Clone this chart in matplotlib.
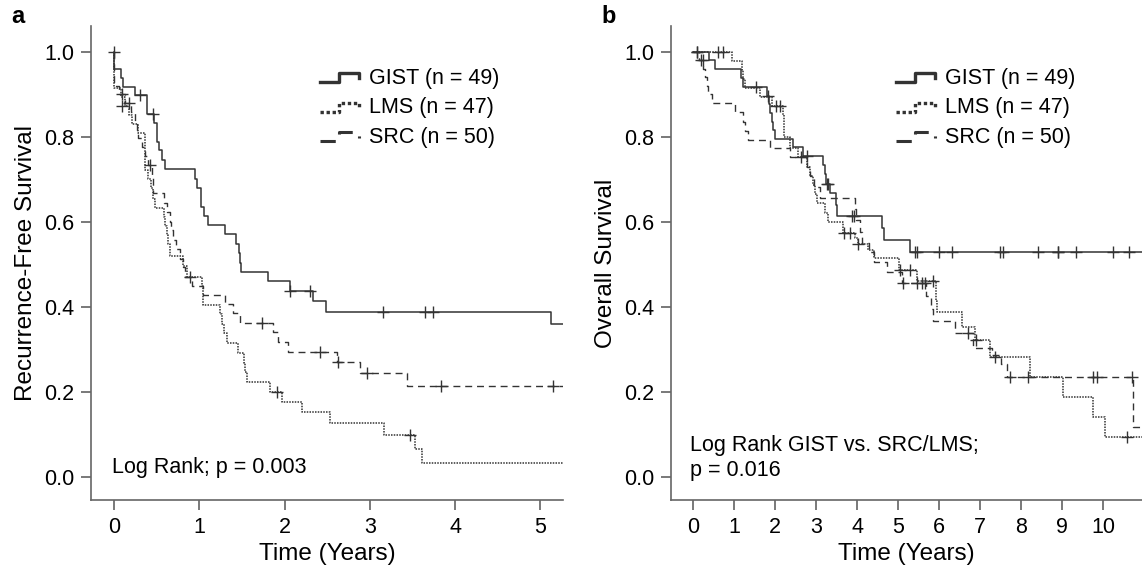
import numpy as np
import matplotlib
matplotlib.use("Agg")
import matplotlib.pyplot as plt
from matplotlib.lines import Line2D
from matplotlib.legend_handler import HandlerBase
from matplotlib.ticker import FormatStrFormatter

plt.rcParams['font.family'] = ['Liberation Sans', 'DejaVu Sans']

# -------- data --------
groups = ['GIST (n = 49)', 'LMS (n = 47)', 'SRC (n = 50)']

# panel a: recurrence-free survival (time in years, survival after each event)
rfs_gist_t = [0.0, 0.0, 0.075, 0.106, 0.243, 0.388, 0.47, 0.497, 0.525, 0.556, 0.595, 0.947, 0.967,
              1.014, 1.053, 1.104, 1.299, 1.425, 1.46, 1.475, 1.49, 1.80, 2.062, 2.336, 2.48, 5.126, 5.3]
rfs_gist_s = [1.0, 0.959, 0.938, 0.918, 0.899, 0.854, 0.832, 0.789, 0.769, 0.746, 0.724, 0.70, 0.679,
              0.636, 0.614, 0.593, 0.571, 0.548, 0.526, 0.504, 0.483, 0.46, 0.438, 0.414, 0.389, 0.359, 0.359]
rfs_gist_ct = [0.0, 0.30, 0.458, 2.065, 2.30, 3.15, 3.647, 3.737]
rfs_gist_cs = [1.0, 0.899, 0.854, 0.438, 0.438, 0.389, 0.389, 0.389]

rfs_lms_t = [0.0, 0.0, 0.075, 0.12, 0.17, 0.21, 0.28, 0.36, 0.365, 0.40, 0.43, 0.45, 0.478, 0.585,
             0.60, 0.62, 0.635, 0.654, 0.81, 0.85, 1.03, 1.04, 1.045, 1.24, 1.26, 1.29, 1.319, 1.455,
             1.52, 1.535, 1.554, 1.827, 1.964, 2.2, 2.53, 3.17, 3.53, 3.61, 5.3]
rfs_lms_s = [1.0, 0.915, 0.894, 0.872, 0.851, 0.830, 0.809, 0.745, 0.723, 0.702, 0.68, 0.655, 0.632, 0.611,
             0.590, 0.569, 0.548, 0.520, 0.497, 0.471, 0.449, 0.427, 0.405, 0.383, 0.361, 0.338, 0.315, 0.291,
             0.268, 0.246, 0.224, 0.201, 0.177, 0.152, 0.126, 0.10, 0.067, 0.033, 0.033]
rfs_lms_ct = [0.085, 1.905, 3.47]
rfs_lms_cs = [0.872, 0.201, 0.10]

rfs_src_t = [0.0, 0.0, 0.06, 0.12, 0.2, 0.24, 0.27, 0.283, 0.32, 0.36, 0.40, 0.44, 0.45, 0.458, 0.58,
             0.615, 0.654, 0.67, 0.693, 0.72, 0.771, 0.81, 0.83, 0.908, 1.045, 1.30, 1.397, 1.475, 1.866,
             1.925, 2.042, 2.61, 2.88, 3.43, 5.3]
rfs_src_s = [1.0, 0.92, 0.90, 0.88, 0.859, 0.838, 0.817, 0.797, 0.776, 0.755, 0.733, 0.711, 0.689, 0.667, 0.645,
             0.623, 0.601, 0.58, 0.558, 0.536, 0.514, 0.493, 0.471, 0.45, 0.428, 0.407, 0.385, 0.363, 0.34,
             0.318, 0.295, 0.271, 0.244, 0.214, 0.214]
rfs_src_ct = [0.094, 0.172, 0.419, 0.889, 1.73, 2.414, 2.62, 2.96, 3.84, 5.15]
rfs_src_cs = [0.90, 0.88, 0.733, 0.471, 0.363, 0.295, 0.271, 0.244, 0.214, 0.214]

# panel b: overall survival
os_gist_t = [0.0, 0.39, 0.53, 1.157, 1.22, 1.79, 1.86, 1.88, 1.91, 1.95, 1.99, 2.44, 2.69, 3.16, 3.21,
             3.25, 3.34, 3.48, 3.5, 4.6, 4.66, 5.3, 11.0]
os_gist_s = [1.0, 0.98, 0.959, 0.939, 0.918, 0.897, 0.877, 0.857, 0.836, 0.816, 0.796, 0.776, 0.755, 0.734, 0.712,
             0.69, 0.668, 0.641, 0.614, 0.586, 0.558, 0.53, 0.53]
os_gist_ct = [0.08, 1.53, 1.82, 2.77, 3.27, 3.3, 3.87, 3.93, 5.41, 5.45, 6.0, 6.31, 7.49, 7.57, 8.42,
              8.89, 8.91, 9.34, 10.24, 10.64]
os_gist_cs = [1.0, 0.918, 0.897, 0.755, 0.69, 0.69, 0.614, 0.614, 0.53, 0.53, 0.53, 0.53, 0.53, 0.53, 0.53,
              0.53, 0.53, 0.53, 0.53, 0.53]

os_lms_t = [0.0, 0.937, 1.18, 1.22, 1.26, 1.63, 1.91, 2.2, 2.205, 2.21, 2.36, 2.55, 2.77, 2.85, 2.93,
            2.98, 3.01, 3.21, 3.3, 3.66, 3.95, 4.03, 4.27, 4.4, 5.03, 5.45, 5.92, 5.93, 5.94, 6.55,
            6.87, 7.24, 8.22, 9.03, 9.76, 10.05, 11.0]
os_lms_s = [1.0, 0.979, 0.957, 0.936, 0.915, 0.894, 0.872, 0.851, 0.826, 0.80, 0.773, 0.752, 0.73, 0.707, 0.686,
            0.665, 0.644, 0.622, 0.60, 0.575, 0.562, 0.548, 0.535, 0.515, 0.487, 0.46, 0.436, 0.413, 0.389, 0.354,
            0.323, 0.283, 0.236, 0.189, 0.142, 0.095, 0.095]
os_lms_ct = [0.08, 0.61, 0.73, 2.03, 2.12, 3.68, 3.82, 4.03, 5.05, 5.29, 5.86, 6.9, 7.36, 10.58]
os_lms_cs = [1.0, 1.0, 1.0, 0.872, 0.872, 0.575, 0.575, 0.548, 0.487, 0.487, 0.46, 0.323, 0.283, 0.095]

os_src_t = [0.0, 0.15, 0.245, 0.285, 0.33, 0.367, 0.448, 1.02, 1.22, 1.26, 1.34, 1.87, 2.36, 2.77, 2.85,
            2.95, 3.1, 3.95, 3.96, 4.07, 4.13, 4.3, 4.41, 4.72, 5.09, 5.69, 5.8, 5.86, 6.38, 6.83,
            7.28, 7.5, 7.65, 10.72, 11.0]
os_src_s = [1.0, 0.98, 0.96, 0.94, 0.92, 0.90, 0.88, 0.858, 0.836, 0.814, 0.793, 0.773, 0.753, 0.73, 0.707,
            0.682, 0.656, 0.63, 0.605, 0.576, 0.55, 0.53, 0.506, 0.483, 0.456, 0.425, 0.396, 0.366, 0.338, 0.303,
            0.287, 0.265, 0.236, 0.118, 0.118]
os_src_ct = [0.2, 0.23, 2.62, 5.13, 5.45, 5.57, 5.65, 6.71, 7.73, 8.18, 9.76, 9.84, 10.7]
os_src_cs = [0.98, 0.98, 0.753, 0.456, 0.456, 0.456, 0.456, 0.338, 0.236, 0.236, 0.236, 0.236, 0.236]

xticks_a = [0, 1, 2, 3, 4, 5]
xticks_b = list(range(0, 11))
yticks = [0.0, 0.2, 0.4, 0.6, 0.8, 1.0]

# -------- styles --------
styles = [dict(color='#333333', linestyle='-', linewidth=1.1),
          dict(color='#333333', linestyle=(0, (1, 0.8)), linewidth=1.1),
          dict(color='#333333', linestyle=(0, (5, 3.5)), linewidth=1.0)]


class StepHandler(HandlerBase):
    # legend symbol shaped like a small step
    def create_artists(self, legend, orig_handle, xdescent, ydescent, width, height, fontsize, trans):
        x = np.array([0, 0.48, 0.48, 1.0, 1.0]) * width - xdescent
        y = np.array([0.1, 0.1, 0.7, 0.7, 0.35]) * height - ydescent
        line = Line2D(x, y)
        line.update_from(orig_handle)
        line.set_linewidth(orig_handle.get_linewidth() * 2.2)
        line.set_transform(trans)
        return [line]


def draw_km(ax, t, s, ct, cs, style):
    line, = ax.step(t, s, where='post', **style)
    ax.plot(ct, cs, linestyle='none', marker='+', markersize=8, markeredgewidth=1.0,
            color=style['color'])
    return line


def style_axes(ax, xticks, xlim):
    for side in ['top', 'right']:
        ax.spines[side].set_visible(False)
    for side in ['left', 'bottom']:
        ax.spines[side].set_color('#666666')
        ax.spines[side].set_linewidth(1.2)
    ax.set_xlim(*xlim)
    ax.set_ylim(-0.054, 1.061)
    ax.set_xticks(xticks)
    ax.set_yticks(yticks)
    ax.yaxis.set_major_formatter(FormatStrFormatter('%.1f'))
    ax.tick_params(direction='out', length=7, width=1.1, color='#555555', labelsize=15.5, pad=5)
    ax.set_xlabel('Time (Years)', fontsize=17.5, labelpad=4)


fig = plt.figure(figsize=(11.42, 5.72), dpi=100)
ax_a = fig.add_axes([0.0797, 0.1259, 0.4133, 0.8287])
ax_b = fig.add_axes([0.5873, 0.1259, 0.4127, 0.8287])

# -------- panel a --------
lines_a = [draw_km(ax_a, rfs_gist_t, rfs_gist_s, rfs_gist_ct, rfs_gist_cs, styles[0]),
           draw_km(ax_a, rfs_lms_t, rfs_lms_s, rfs_lms_ct, rfs_lms_cs, styles[1]),
           draw_km(ax_a, rfs_src_t, rfs_src_s, rfs_src_ct, rfs_src_cs, styles[2])]
style_axes(ax_a, xticks_a, (-0.273, 5.266))
ax_a.set_ylabel('Recurrence-Free Survival', fontsize=17.5, labelpad=5)
ax_a.text(0.044, 0.0675, 'Log Rank; p = 0.003', transform=ax_a.transAxes,
          fontsize=15.5, ha='left', va='center')
ax_a.legend(lines_a, groups, handler_map={Line2D: StepHandler()}, loc='upper left',
            bbox_to_anchor=(0.485, 0.912), frameon=False, fontsize=15.5, handlelength=1.8,
            handletextpad=0.5, labelspacing=0.4, borderpad=0, borderaxespad=0)

# -------- panel b --------
lines_b = [draw_km(ax_b, os_gist_t, os_gist_s, os_gist_ct, os_gist_cs, styles[0]),
           draw_km(ax_b, os_lms_t, os_lms_s, os_lms_ct, os_lms_cs, styles[1]),
           draw_km(ax_b, os_src_t, os_src_s, os_src_ct, os_src_cs, styles[2])]
style_axes(ax_b, xticks_b, (-0.55, 10.95))
ax_b.set_ylabel('Overall Survival', fontsize=17.5, labelpad=5)
ax_b.text(0.042, 0.089, 'Log Rank GIST vs. SRC/LMS;\np = 0.016', transform=ax_b.transAxes,
          fontsize=15.5, ha='left', va='center', linespacing=1.22)
ax_b.legend(lines_b, groups, handler_map={Line2D: StepHandler()}, loc='upper left',
            bbox_to_anchor=(0.478, 0.912), frameon=False, fontsize=15.5, handlelength=1.8,
            handletextpad=0.5, labelspacing=0.4, borderpad=0, borderaxespad=0)

fig.text(0.0158, 0.972, 'a', fontsize=17, fontweight='bold', ha='center', va='center')
fig.text(0.533, 0.972, 'b', fontsize=17, fontweight='bold', ha='center', va='center')

fig.savefig('out.png', dpi=100)
